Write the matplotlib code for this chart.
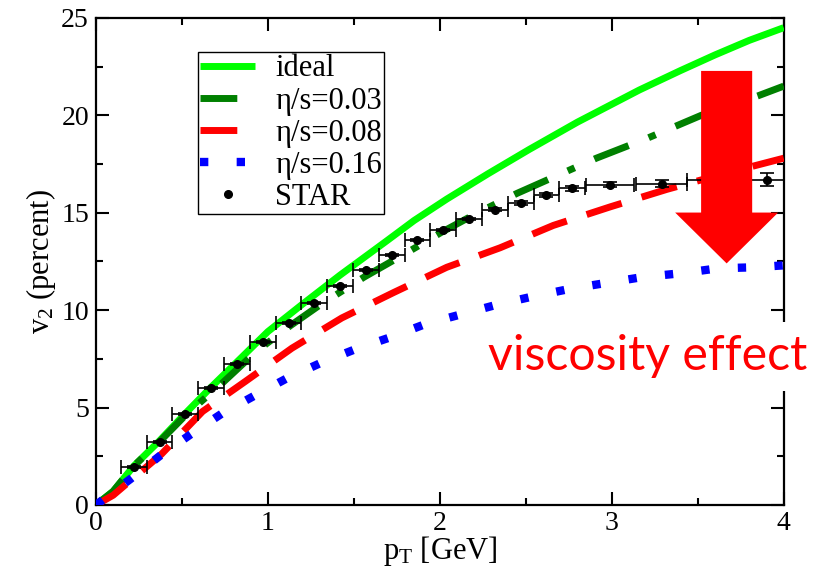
import matplotlib
matplotlib.use("Agg")
import matplotlib.pyplot as plt
from matplotlib.patches import FancyArrow
from matplotlib.lines import Line2D
import numpy as np

plt.rcParams['font.family'] = ['Liberation Serif', 'DejaVu Serif']
plt.rcParams['mathtext.fontset'] = 'custom'
plt.rcParams['mathtext.rm'] = 'Liberation Serif'
plt.rcParams['mathtext.it'] = 'Liberation Serif:italic'

# ---- data ----
ideal_x = [0, 0.1, 0.22, 0.37, 0.52, 0.67, 0.85, 1.0, 1.2, 1.42, 1.69, 1.85, 2.04, 2.28, 2.52, 2.8, 3.16, 3.4, 3.6, 3.8, 4.0]
ideal_y = [0, 0.7, 2.0, 3.3, 4.7, 6.05, 7.6, 8.9, 10.3, 11.8, 13.55, 14.6, 15.7, 17.0, 18.25, 19.65, 21.3, 22.3, 23.1, 23.85, 24.5]

eta03_x = [0, 0.1, 0.22, 0.37, 0.52, 0.74, 0.935, 1.13, 1.30, 1.56, 1.81, 2.01, 2.22, 2.45, 2.68, 2.91, 3.2, 3.52, 3.85, 4.0]
eta03_y = [0, 0.7, 2.0, 3.25, 4.6, 6.3, 7.9, 9.2, 10.25, 11.7, 12.96, 14.0, 15.0, 16.0, 16.9, 17.8, 18.8, 20.0, 21.0, 21.5]

eta08_x = [0, 0.1, 0.38, 0.62, 0.87, 1.14, 1.43, 1.73, 2.04, 2.35, 2.66, 2.99, 3.32, 3.65, 4.0]
eta08_y = [0, 0.5, 2.6, 4.8, 6.35, 8.05, 9.6, 10.9, 12.2, 13.2, 14.35, 15.3, 16.2, 17.0, 17.8]

eta16_x = [0, 0.2, 0.37, 0.55, 0.73, 0.92, 1.11, 1.31, 1.51, 1.71, 1.92, 2.13, 2.34, 2.54, 2.76, 2.97, 3.18, 3.41, 3.62, 3.83, 4.0]
eta16_y = [0, 1.33, 2.51, 3.62, 4.68, 5.6, 6.5, 7.3, 8.0, 8.6, 9.3, 9.8, 10.3, 10.7, 11.1, 11.4, 11.7, 11.9, 12.15, 12.2, 12.3]

star_x = [0.22, 0.37, 0.52, 0.67, 0.82, 0.97, 1.12, 1.27, 1.42, 1.57, 1.72, 1.87, 2.02, 2.17, 2.32, 2.47, 2.62, 2.77, 2.99, 3.29, 3.90]
star_y = [1.95, 3.25, 4.65, 6.0, 7.25, 8.35, 9.35, 10.35, 11.25, 12.05, 12.85, 13.6, 14.1, 14.7, 15.15, 15.5, 15.9, 16.25, 16.45, 16.5, 16.7]
star_xerr_lo = [0.075]*18 + [0.14, 0.15, 0.46]
star_xerr_hi = [0.075]*18 + [0.14, 0.15, 0.46]
star_yerr = [0.05]*14 + [0.08, 0.1, 0.1, 0.12, 0.12, 0.2, 0.35]

legend_labels = ['ideal', 'η/s=0.03', 'η/s=0.08', 'η/s=0.16', 'STAR']

# ---- figure ----
fig = plt.figure(figsize=(8.13, 5.71), dpi=100)
ax = fig.add_axes([0.118, 0.1156, 0.846, 0.853])

h1, = ax.plot(ideal_x, ideal_y, color='#00ff00', lw=5, solid_capstyle='butt', zorder=3)
h2, = ax.plot(eta03_x, eta03_y, color='#008000', lw=5, dash_capstyle='butt',
              dashes=(5.3, 3.1, 1.1, 3.1), zorder=3)
h3, = ax.plot(eta08_x, eta08_y, color='#ff0000', lw=5, dash_capstyle='butt',
              dashes=(5.3, 3.0), zorder=3)
h4, = ax.plot(eta16_x, eta16_y, color='#0000ff', lw=6, dash_capstyle='butt',
              dashes=(1.0, 3.4), zorder=3)
ax.errorbar(star_x, star_y, xerr=[star_xerr_lo, star_xerr_hi], yerr=star_yerr,
            fmt='o', color='black', ms=5.5, elinewidth=1.2, capsize=5, capthick=1.2,
            zorder=4)
h5 = Line2D([], [], marker='o', ls='none', color='black', ms=5.5)

ax.set_xlim(0, 4)
ax.set_ylim(0, 25)
ax.set_xticks([0, 1, 2, 3, 4])
ax.set_yticks([0, 5, 10, 15, 20, 25])
ax.set_xticks(np.arange(0, 4.01, 0.5), minor=True)
ax.set_yticks(np.arange(0, 25.01, 2.5), minor=True)
ax.tick_params(which='both', direction='in', top=True, right=True, width=1.5, labelsize=20)
ax.tick_params(which='major', length=9.5)
ax.tick_params(which='minor', length=5)
ax.tick_params(axis='x', pad=4)
ax.tick_params(axis='y', pad=5)
for s in ax.spines.values():
    s.set_linewidth(1.6)

ax.set_xlabel(r'p$_\mathrm{T}$ [GeV]', fontsize=22, labelpad=-1)
ax.set_ylabel(r'v$_2$ (percent)', fontsize=22, labelpad=2)

leg = ax.legend([h1, h2, h3, h4, h5], legend_labels,
                loc='upper left', bbox_to_anchor=(0.148, 0.930), borderaxespad=0,
                fontsize=22, frameon=True, fancybox=False, edgecolor='black',
                handlelength=1.8, handletextpad=0.65, labelspacing=0.1,
                borderpad=0.08, framealpha=1)
leg.get_frame().set_linewidth(1.0)

# annotation: big red arrow and text
ax.add_patch(FancyArrow(3.668, 22.28, 0, -9.88, width=0.297, head_width=0.599,
                        head_length=2.61, length_includes_head=True,
                        color='#ff0000', lw=0, zorder=6))
ax.text(2.279, 6.92, 'viscosity effect', color='#ff0000', fontsize=34.7,
        family=['Lato', 'DejaVu Sans'], ha='left', va='baseline', zorder=7,
        bbox=dict(facecolor='white', edgecolor='none', pad=9))

fig.savefig('out.png', dpi=100)
